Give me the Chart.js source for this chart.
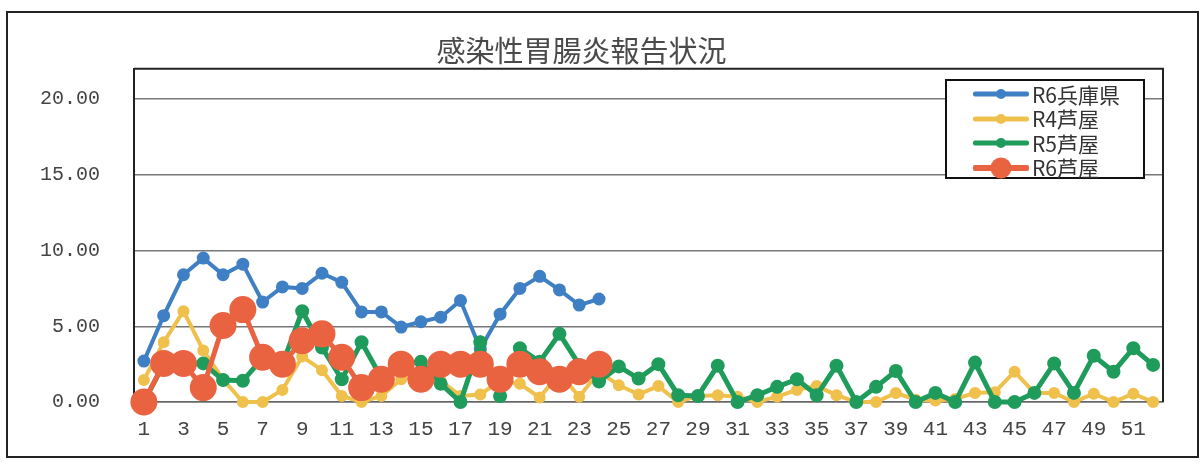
<!DOCTYPE html>
<html lang="ja">
<head>
<meta charset="utf-8">
<title>感染性胃腸炎報告状況</title>
<script src="https://cdn.jsdelivr.net/npm/chart.js@4/dist/chart.umd.min.js"></script>
<style>
  html, body { margin: 0; padding: 0; background: #fff; }
  #wrap { position: relative; width: 1203px; height: 465px; }
  #legend {
    position: absolute; left: 945px; top: 79px; width: 200px; height: 100px;
    border: 2px solid #111; background: #fff; box-sizing: border-box;
    padding-top: 1px;
    font-family: "Noto Sans CJK JP", "Noto Sans", sans-serif; font-size: 21px; color: #333;
  }
  .row { height: 24.5px; display: flex; align-items: center; }
  .swatch { position: relative; width: 56px; margin-left: 26px; margin-right: 3px; }
  .swatch .ln { position: absolute; left: 0; right: 0; top: 50%; transform: translateY(-50%); border-radius: 2px; }
  .swatch .dot { position: absolute; left: 50%; top: 50%; transform: translate(-50%, -50%); border-radius: 50%; }
  .row span.txt { line-height: 1; }
</style>
</head>
<body>
<div id="wrap">
  <canvas id="myChart" width="1203" height="465"></canvas>
  <div id="legend"></div>
</div>
<script>
// week numbers
const weeks = [1, 2, 3, 4, 5, 6, 7, 8, 9, 10, 11, 12, 13, 14, 15, 16, 17, 18, 19, 20,
    21, 22, 23, 24, 25, 26, 27, 28, 29, 30, 31, 32, 33, 34, 35, 36, 37, 38, 39, 40,
    41, 42, 43, 44, 45, 46, 47, 48, 49, 50, 51, 52];

const r6Hyogo = [2.7, 5.7, 8.4, 9.5, 8.4, 9.1, 6.6, 7.6, 7.5, 8.5, 7.9, 5.95, 5.95, 4.95,
    5.3, 5.6, 6.7, 3.5, 5.8, 7.5, 8.3, 7.4, 6.4, 6.8];

const r4Ashiya = [1.45, 3.95, 6.0, 3.4, 1.5, 0, 0, 0.8, 3.0, 2.1, 0.4, 0, 0.4, 1.5, 1.7, 1.4,
    0.4, 0.5, 1.4, 1.2, 0.3, 1.9, 0.35, 2.0, 1.1, 0.5, 1.05, 0, 0.4, 0.45, 0.35, 0, 0.35,
    0.8, 1.05, 0.45, 0, 0, 0.6, 0.15, 0.1, 0.2, 0.6, 0.65, 2.0, 0.6, 0.6, 0, 0.55, 0, 0.55, 0];

const r5Ashiya = [0, 2.5, 2.5, 2.55, 1.45, 1.4, 2.9, 2.5, 6.0, 3.6, 1.5, 3.95, 1.6, 2.55,
    2.65, 1.2, 0, 3.95, 0.4, 3.55, 2.65, 4.5, 2.45, 1.35, 2.35, 1.55, 2.5, 0.45, 0.4, 2.4,
    0, 0.45, 1.0, 1.5, 0.45, 2.4, 0, 1.0, 2.05, 0, 0.6, 0, 2.6, 0, 0, 0.6, 2.55, 0.6, 3.05,
    2.0, 3.55, 2.45];

const r6Ashiya = [0, 2.55, 2.55, 0.95, 5.05, 6.1, 2.95, 2.5, 4.05, 4.5, 2.95, 0.95, 1.5, 2.5,
    1.5, 2.5, 2.5, 2.5, 1.5, 2.5, 2.0, 1.5, 2.0, 2.5];

const yTicks = [0, 5, 10, 15, 20];

const seriesNames = ["R6兵庫県", "R4芦屋", "R5芦屋", "R6芦屋"];
const seriesColors = ["#3f7fc4", "#efc04c", "#1f9b5b", "#ea6341"];

const frame = {
    id: "frame",
    beforeDatasetsDraw(chart) {
        const a = chart.chartArea, c = chart.ctx;
        c.save();
        c.strokeStyle = "#222";
        c.lineWidth = 2;
        c.beginPath();
        c.moveTo(a.left, a.top);
        c.lineTo(a.right, a.top);
        c.lineTo(a.right, a.bottom);
        c.stroke();
        c.restore();
    },
    afterDraw(chart) {
        const c = chart.ctx;
        c.save();
        c.strokeStyle = "#222";
        c.lineWidth = 2;
        c.strokeRect(7, 12, 1191, 445);
        c.restore();
    }
};

const ctx = document.getElementById("myChart");

new Chart(ctx, {
    type: "line",
    data: {
        labels: weeks,
        datasets: [
            { label: seriesNames[0], data: r6Hyogo, borderColor: seriesColors[0], backgroundColor: seriesColors[0],
              borderWidth: 4, pointRadius: 4.5, order: 4 },
            { label: seriesNames[1], data: r4Ashiya, borderColor: seriesColors[1], backgroundColor: seriesColors[1],
              borderWidth: 4, pointRadius: 4, order: 3 },
            { label: seriesNames[2], data: r5Ashiya, borderColor: seriesColors[2], backgroundColor: seriesColors[2],
              borderWidth: 5, pointRadius: 4.5, order: 2 },
            { label: seriesNames[3], data: r6Ashiya, borderColor: seriesColors[3], backgroundColor: seriesColors[3],
              borderWidth: 5, pointRadius: 11, order: 1 }
        ]
    },
    options: {
        responsive: false,
        animation: false,
        clip: false,
        layout: { padding: { left: 0, right: 40, top: 0, bottom: 0 } },
        elements: {
            line: { tension: 0 },
            point: { borderWidth: 0, hoverRadius: 5 }
        },
        plugins: {
            legend: { display: false },
            tooltip: { enabled: false },
            title: {
                display: true,
                text: "感染性胃腸炎報告状況",
                color: "#4a4a4a",
                font: { family: "'Noto Sans CJK JP', 'Noto Sans', sans-serif", size: 29, weight: "normal" },
                padding: { top: 34, bottom: 0 }
            }
        },
        scales: {
            x: {
                offset: true,
                grid: { display: false, drawTicks: false },
                border: { display: true, color: "#666", width: 1.5 },
                ticks: {
                    autoSkip: false,
                    maxRotation: 0,
                    padding: 15,
                    color: "#444",
                    font: { family: "'Liberation Mono', monospace", size: 21 },
                    callback: function (v, i) { return i % 2 === 0 ? weeks[i] : ""; }
                },
                afterFit: function (s) { s.height = 63; }
            },
            y: {
                min: 0,
                max: 22,
                grid: { color: "#777", lineWidth: 1.5, drawTicks: false },
                border: { display: true, color: "#222", width: 2 },
                afterBuildTicks: function (s) { s.ticks = yTicks.map(v => ({ value: v })); },
                ticks: {
                    padding: 34,
                    color: "#444",
                    font: { family: "'Liberation Mono', monospace", size: 20 },
                    callback: v => Number(v).toFixed(2)
                },
                afterFit: function (s) { s.width = 134; }
            }
        }
    },
    plugins: [frame]
});

// legend box drawn as html, same order as the series
const legendBox = document.getElementById("legend");
seriesNames.forEach(function (name, i) {
    const big = i === 3;
    const row = document.createElement("div");
    row.className = "row";
    row.innerHTML =
        '<div class="swatch" style="height:24px">' +
        '<div class="ln" style="height:' + (big ? 6 : 5) + 'px;background:' + seriesColors[i] + '"></div>' +
        '<div class="dot" style="width:' + (big ? 21 : 10) + 'px;height:' + (big ? 21 : 10) + 'px;background:' + seriesColors[i] + '"></div>' +
        '</div><span class="txt">' + name + '</span>';
    legendBox.appendChild(row);
});
</script>
</body>
</html>
